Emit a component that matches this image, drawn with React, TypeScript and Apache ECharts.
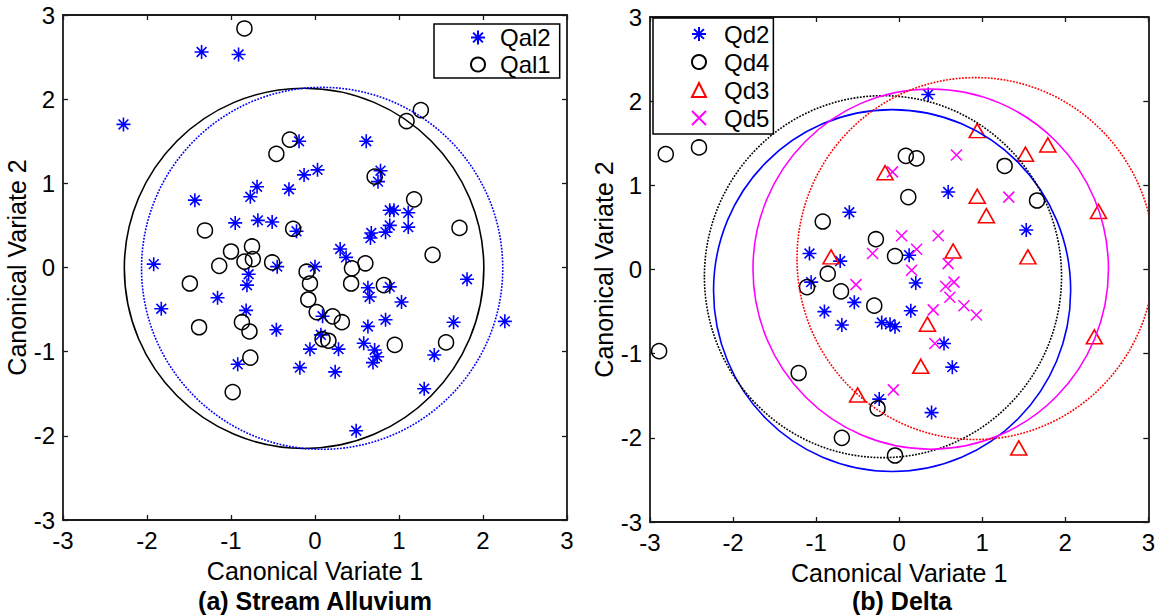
import React, { useEffect, useRef } from 'react';
import * as echarts from 'echarts';

// ---------- data ----------
const AXIS_MIN = -3;
const AXIS_MAX = 3;
const AXIS_STEP = 1;

// (a) Stream Alluvium
const qal2Points: [number, number][] = [
  [-1.35, 2.56], [-0.91, 2.53], [-2.28, 1.7], [-0.19, 1.5], [0.61, 1.5], [-0.13, 1.1], [0.03, 1.16],
  [0.78, 1.15], [0.75, 1.02], [-0.31, 0.93], [-0.69, 0.96], [-0.77, 0.84], [-1.43, 0.8], [0.89, 0.68],
  [0.94, 0.68], [1.11, 0.65], [-0.95, 0.53], [-0.68, 0.56], [-0.51, 0.54], [0.89, 0.5], [1.11, 0.48],
  [0.84, 0.42], [0.67, 0.41], [0.66, 0.35], [-0.22, 0.43], [0.3, 0.22], [0.37, 0.12], [-1.92, 0.04],
  [-0.45, 0.01], [0.0, 0.01], [-0.79, -0.08], [-0.81, -0.21], [-1.16, -0.36], [-1.83, -0.49],
  [-0.82, -0.51], [-0.46, -0.74], [-0.92, -1.15], [-0.06, -0.97], [-0.18, -1.19], [0.07, -0.8],
  [0.63, -0.24], [0.89, -0.23], [0.65, -0.35], [1.03, -0.41], [0.09, -0.58], [0.84, -0.62],
  [0.63, -0.7], [1.65, -0.65], [1.81, -0.14], [2.26, -0.64], [0.28, -0.97], [0.58, -0.9],
  [0.71, -0.98], [0.74, -1.06], [0.69, -1.13], [1.42, -1.04], [0.24, -1.24], [1.3, -1.44], [0.49, -1.94],
];
const qal1Points: [number, number][] = [
  [-0.84, 2.84], [-0.3, 1.52], [-0.46, 1.35], [1.26, 1.87], [1.09, 1.74], [0.71, 1.08], [1.18, 0.81],
  [-1.31, 0.44], [-0.26, 0.46], [1.72, 0.47], [1.4, 0.15], [-1.14, 0.02], [-1.0, 0.19], [-0.75, 0.25],
  [-0.84, 0.07], [-0.74, 0.1], [-0.51, 0.06], [-0.1, -0.05], [0.6, 0.05], [0.44, -0.01], [0.43, -0.19],
  [-0.06, -0.19], [-0.08, -0.38], [-1.49, -0.19], [-1.38, -0.71], [-0.87, -0.65], [-0.78, -0.76],
  [-0.77, -1.07], [-0.98, -1.48], [0.02, -0.53], [0.21, -0.58], [0.32, -0.65], [0.82, -0.21],
  [0.09, -0.85], [0.16, -0.87], [0.95, -0.92], [1.56, -0.89],
];
// rings: [centre x, centre y, radius]
const qal1Ring: [number, number, number] = [-0.13, -0.01, 2.14];
const qal2Ring: [number, number, number] = [0.085, -0.01, 2.15];

// (b) Delta
const qd2Points: [number, number][] = [
  [0.35, 2.08], [-0.6, 0.68], [0.59, 0.92], [1.53, 0.47], [-1.08, 0.19], [-0.71, 0.1], [0.12, 0.17],
  [-1.06, -0.15], [0.2, -0.16], [-0.54, -0.39], [0.14, -0.49], [-0.9, -0.5], [-0.69, -0.66],
  [-0.21, -0.63], [-0.11, -0.65], [-0.05, -0.68], [0.54, -0.88], [0.64, -1.16], [-0.24, -1.54], [0.39, -1.7],
];
const qd4Points: [number, number][] = [
  [-2.81, 1.37], [-2.41, 1.45], [0.08, 1.35], [0.21, 1.32], [0.11, 0.86], [1.27, 1.23], [1.66, 0.82],
  [-0.92, 0.57], [-0.28, 0.36], [-0.05, 0.16], [-0.86, -0.05], [-1.11, -0.21], [-0.7, -0.26],
  [-0.3, -0.43], [-2.89, -0.97], [-1.21, -1.23], [-0.26, -1.65], [-0.69, -2.0], [-0.05, -2.21],
];
const qd3Points: [number, number][] = [
  [-0.17, 1.15], [0.94, 1.65], [1.79, 1.48], [1.52, 1.37], [0.94, 0.87], [1.05, 0.64], [2.4, 0.69],
  [0.65, 0.22], [1.55, 0.15], [-0.82, 0.15], [0.34, -0.65], [2.35, -0.8], [0.26, -1.15], [-0.5, -1.49],
  [1.44, -2.12],
];
const qd5Points: [number, number][] = [
  [-0.08, 1.16], [0.69, 1.36], [1.32, 0.86], [0.03, 0.4], [0.47, 0.4], [-0.32, 0.19], [0.21, 0.24],
  [0.59, 0.07], [0.15, -0.01], [0.56, -0.2], [0.66, -0.15], [0.61, -0.33], [0.41, -0.48], [0.78, -0.43],
  [0.93, -0.54], [0.43, -0.88], [-0.52, -0.18], [-0.07, -1.43],
];
const qd2Ring: [number, number, number] = [-0.085, -0.25, 2.15];
const qd4Ring: [number, number, number] = [-0.195, -0.085, 2.15];
const qd5Ring: [number, number, number] = [0.38, 0.005, 2.14];
const qd3Ring: [number, number, number] = [0.92, 0.13, 2.15];

const leftNames = ['Qal2', 'Qal1'];
const rightNames = ['Qd2', 'Qd4', 'Qd3', 'Qd5'];
const xAxisTitle = 'Canonical Variate 1';
const yAxisTitle = 'Canonical Variate 2';
const panelTitles = ['(a) Stream Alluvium', '(b) Delta'];

// ---------- styling ----------
const FONT = '"Liberation Sans", Arial, Helvetica, sans-serif';
const STAR = 'path://M5 0 L5 10 M0 5 L10 5 M1.5 1.5 L8.5 8.5 M1.5 8.5 L8.5 1.5';
const CROSS = 'path://M0 0 L10 10 M0 10 L10 0';

function makeAxes(gridIndex: number, kind: 'x' | 'y') {
  const base = {
    type: 'value',
    gridIndex,
    min: AXIS_MIN,
    max: AXIS_MAX,
    interval: AXIS_STEP,
    splitLine: { show: false },
    axisLine: { show: true, onZero: false, lineStyle: { color: '#1a1a1a', width: 1.8 } },
    axisTick: { show: true, inside: true, length: 5, lineStyle: { color: '#1a1a1a', width: 1.3 } },
  };
  const main = {
    ...base,
    position: kind === 'x' ? 'bottom' : 'left',
    name: kind === 'x' ? xAxisTitle : yAxisTitle,
    nameLocation: 'middle',
    nameGap: kind === 'x' ? 38 : 30,
    nameRotate: kind === 'x' ? 0 : 90,
    nameTextStyle: { fontSize: 25, color: '#000', fontFamily: FONT },
    axisLabel: { show: true, fontSize: 24, color: '#000', fontFamily: FONT, margin: 8 },
  };
  const other = {
    ...base,
    position: kind === 'x' ? 'top' : 'right',
    axisLabel: { show: false },
  };
  return [main, other];
}

function ringSeries(name: string, gridIdx: number, ring: [number, number, number], color: string, dashed: boolean) {
  return {
    type: 'custom',
    name,
    xAxisIndex: gridIdx * 2,
    yAxisIndex: gridIdx * 2,
    data: [ring],
    encode: { x: 0, y: 1 },
    silent: true,
    z: 5,
    renderItem: (params: any, api: any) => {
      const c = api.coord([api.value(0), api.value(1)]);
      const s = api.size([api.value(2), api.value(2)]);
      const cs = params.coordSys;
      return {
        type: 'ellipse',
        shape: { cx: c[0], cy: c[1], rx: s[0], ry: s[1] },
        style: {
          fill: 'none',
          stroke: color,
          lineWidth: 1.6,
          lineDash: dashed ? [1.8, 1.4] : null,
        },
        clipPath: { type: 'rect', shape: { x: cs.x, y: cs.y, width: cs.width, height: cs.height } },
      };
    },
  };
}

function scatter(name: string, gridIdx: number, data: [number, number][], symbol: string, size: any, color: string, bw: number) {
  return {
    type: 'scatter',
    name,
    xAxisIndex: gridIdx * 2,
    yAxisIndex: gridIdx * 2,
    data,
    symbol,
    symbolSize: size,
    z: 3,
    itemStyle: { color: 'transparent', borderColor: color, borderWidth: bw, opacity: 1 },
    emphasis: { disabled: true },
  };
}

export default function App() {
  const ref = useRef<HTMLDivElement>(null);
  useEffect(() => {
    document.body.style.margin = '0';
    if (!ref.current) return;
    const chart = echarts.init(ref.current, undefined, { renderer: 'svg' });
    const [x0, x0t] = makeAxes(0, 'x');
    const [x1, x1t] = makeAxes(1, 'x');
    const [y0, y0r] = makeAxes(0, 'y');
    const [y1, y1r] = makeAxes(1, 'y');
    chart.setOption({
      animation: false,
      backgroundColor: '#fff',
      textStyle: { fontFamily: FONT },
      grid: [
        { left: 63, top: 15, width: 504, height: 505 },
        { left: 650, top: 17, width: 504, height: 505 },
      ],
      xAxis: [x0, x0t, x1, x1t],
      yAxis: [y0, y0r, y1, y1r],
      legend: [
        {
          data: leftNames,
          orient: 'vertical',
          left: 434,
          top: 24,
          padding: [0, 9, 0, 36],
          itemWidth: 14,
          itemHeight: 14,
          itemGap: 0,
          selectedMode: false,
          borderColor: '#000',
          borderWidth: 1.5,
          backgroundColor: '#fff',
          textStyle: { fontSize: 24, lineHeight: 27, color: '#000', fontFamily: FONT, padding: [0, 0, 0, 10] },
        },
        {
          data: rightNames,
          orient: 'vertical',
          left: 653,
          top: 18,
          padding: [2, 4, 2, 38],
          itemWidth: 14,
          itemHeight: 14,
          itemGap: 0,
          selectedMode: false,
          borderColor: '#000',
          borderWidth: 1.5,
          backgroundColor: '#fff',
          textStyle: { fontSize: 24, lineHeight: 28, color: '#000', fontFamily: FONT, padding: [0, 0, 0, 13] },
        },
      ],
      graphic: [
        {
          type: 'text',
          x: 315,
          y: 601,
          style: {
            text: panelTitles[0],
            align: 'center',
            verticalAlign: 'middle',
            fontSize: 25,
            fontWeight: 'bold',
            fontFamily: FONT,
            fill: '#000',
          },
        },
        {
          type: 'text',
          x: 902,
          y: 601,
          style: {
            text: panelTitles[1],
            align: 'center',
            verticalAlign: 'middle',
            fontSize: 25,
            fontWeight: 'bold',
            fontFamily: FONT,
            fill: '#000',
          },
        },
      ],
      series: [
        scatter('Qal2', 0, qal2Points, STAR, 14, '#0000ff', 1.6),
        scatter('Qal1', 0, qal1Points, 'circle', 15, '#000000', 1.5),
        ringSeries('Qal1 ring', 0, qal1Ring, '#000000', false),
        ringSeries('Qal2 ring', 0, qal2Ring, '#0000ff', true),
        scatter('Qd2', 1, qd2Points, STAR, 14, '#0000ff', 1.6),
        scatter('Qd4', 1, qd4Points, 'circle', 15, '#000000', 1.5),
        scatter('Qd3', 1, qd3Points, 'triangle', [16, 14], '#ff0000', 1.6),
        scatter('Qd5', 1, qd5Points, CROSS, 11, '#ff00ff', 1.5),
        ringSeries('Qd2 ring', 1, qd2Ring, '#0000ff', false),
        ringSeries('Qd4 ring', 1, qd4Ring, '#000000', true),
        ringSeries('Qd5 ring', 1, qd5Ring, '#ff00ff', false),
        ringSeries('Qd3 ring', 1, qd3Ring, '#ff0000', true),
      ],
    });
    return () => chart.dispose();
  }, []);
  return (
    <div
      ref={ref}
      style={{ position: 'absolute', left: 0, top: 0, width: 1158, height: 616, background: '#fff' }}
    />
  );
}
